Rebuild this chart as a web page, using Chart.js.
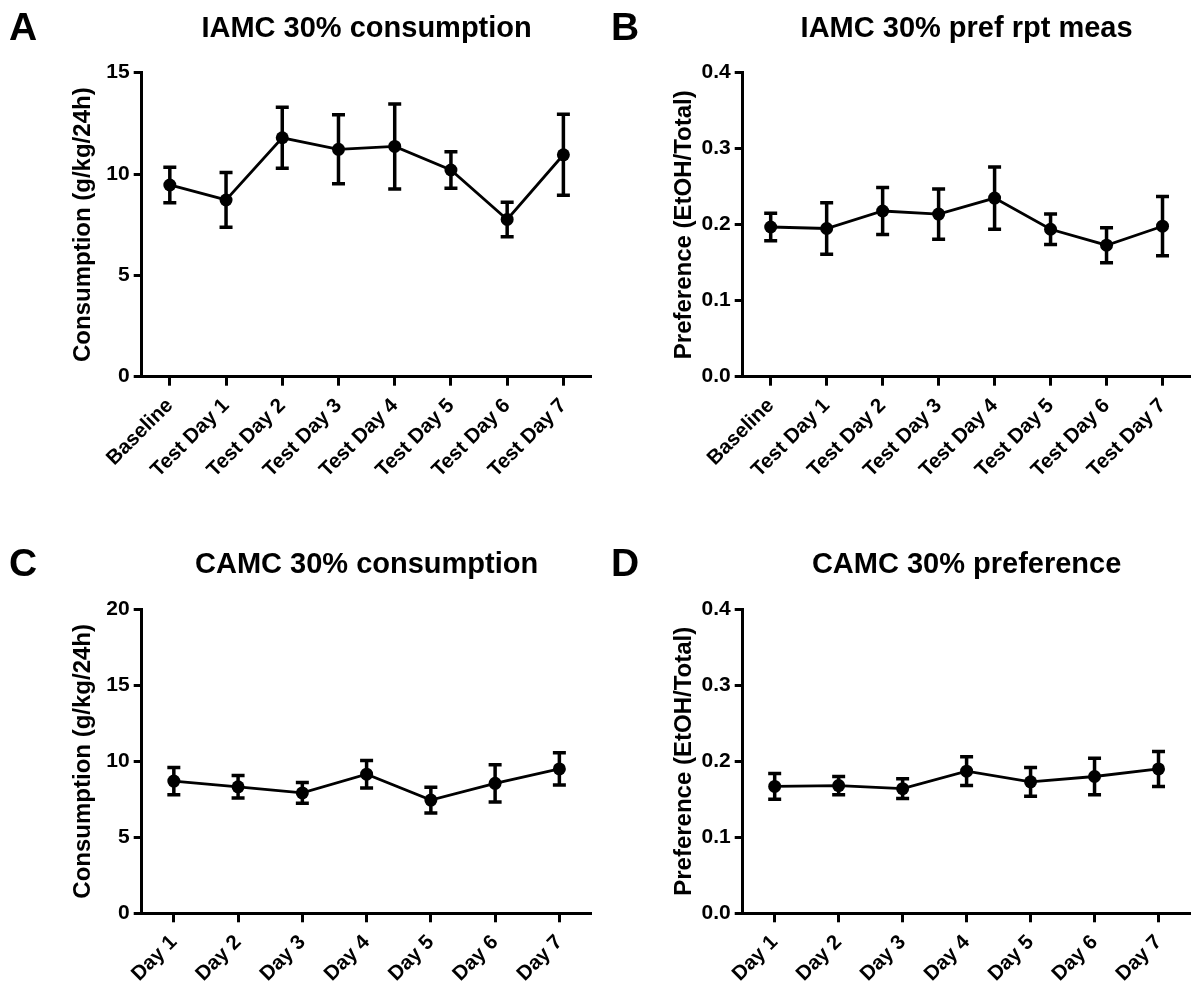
<!DOCTYPE html>
<html><head><meta charset="utf-8">
<script src="https://cdn.jsdelivr.net/npm/chart.js@4.4.1/dist/chart.umd.min.js"></script>
<style>
html,body{margin:0;padding:0;background:#fff;}
#wrap{position:relative;width:1197px;height:988px;overflow:hidden;background:#fff;}
canvas{position:absolute;}
</style></head><body>
<div id="wrap">
<canvas id="cA" width="598" height="536" style="left:0px;top:0px"></canvas>
<canvas id="cB" width="599" height="536" style="left:598px;top:0px"></canvas>
<canvas id="cC" width="598" height="452" style="left:0px;top:536px"></canvas>
<canvas id="cD" width="599" height="452" style="left:598px;top:536px"></canvas>
</div>
<script>
// ---- data ----
const iamcLabels = ['Baseline','Test Day 1','Test Day 2','Test Day 3','Test Day 4','Test Day 5','Test Day 6','Test Day 7'];
const camcLabels = ['Day 1','Day 2','Day 3','Day 4','Day 5','Day 6','Day 7'];

const iamcConsMean = [9.46, 8.72, 11.79, 11.22, 11.36, 10.2, 7.76, 10.95];
const iamcConsSem  = [0.88, 1.35, 1.5, 1.7, 2.1, 0.9, 0.85, 2.0];

const iamcPrefMean = [0.197, 0.195, 0.218, 0.214, 0.235, 0.194, 0.173, 0.198];
const iamcPrefSem  = [0.018, 0.034, 0.031, 0.033, 0.041, 0.020, 0.023, 0.039];

const camcConsMean = [8.7, 8.32, 7.92, 9.15, 7.45, 8.55, 9.5];
const camcConsSem  = [0.9, 0.74, 0.68, 0.9, 0.85, 1.22, 1.06];

const camcPrefMean = [0.167, 0.168, 0.164, 0.187, 0.173, 0.180, 0.190];
const camcPrefSem  = [0.017, 0.012, 0.013, 0.019, 0.019, 0.024, 0.023];

const consTicksA = [0, 5, 10, 15];
const consTicksC = [0, 5, 10, 15, 20];
const prefTicks  = [0, 0.1, 0.2, 0.3, 0.4];

// ---- rendering ----
const FONT = "'Liberation Sans', Arial, Helvetica, sans-serif";
Chart.defaults.font.family = FONT;
Chart.defaults.color = '#000';

const errorBars = {
  id: 'errorBars',
  afterDatasetsDraw(chart) {
    const ctx = chart.ctx, xs = chart.scales.x, ys = chart.scales.y;
    chart.data.datasets.forEach(ds => {
      if (!ds.errors) return;
      ctx.save();
      ctx.strokeStyle = '#000';
      ctx.lineWidth = 3.5;
      ds.data.forEach((v, i) => {
        const e = ds.errors[i];
        const px = xs.getPixelForValue(i);
        const t = ys.getPixelForValue(v + e);
        const b = ys.getPixelForValue(v - e);
        ctx.beginPath();
        ctx.moveTo(px, t); ctx.lineTo(px, b);
        ctx.moveTo(px - 6.5, t); ctx.lineTo(px + 6.5, t);
        ctx.moveTo(px - 6.5, b); ctx.lineTo(px + 6.5, b);
        ctx.stroke();
      });
      ctx.restore();
    });
  }
};

const header = {
  id: 'header',
  afterDraw(chart, args, o) {
    const ctx = chart.ctx, ca = chart.chartArea;
    ctx.save();
    ctx.fillStyle = '#000';
    ctx.textBaseline = 'alphabetic';
    ctx.font = 'bold 39px ' + FONT;
    ctx.textAlign = 'left';
    ctx.fillText(o.letter, o.letterX, 40);
    ctx.font = 'bold 29px ' + FONT;
    ctx.textAlign = 'center';
    ctx.fillText(o.title, (ca.left + ca.right) / 2, 37);
    ctx.restore();
  }
};

function makeChart(id, letter, letterX, title, labels, mean, sem, ticks, yTitle, geo, dec) {
  const yMax = ticks[ticks.length - 1];
  const step = ticks[1] - ticks[0];
  new Chart(document.getElementById(id), {
    type: 'line',
    data: {
      labels: labels,
      datasets: [{
        data: mean,
        errors: sem,
        borderColor: '#000',
        backgroundColor: '#000',
        borderWidth: 2.8,
        pointRadius: 6.5,
        pointBackgroundColor: '#000',
        pointBorderColor: '#000',
        pointBorderWidth: 0,
        tension: 0,
        clip: false
      }]
    },
    options: {
      responsive: false,
      animation: false,
      events: [],
      layout: { padding: { left: 0, right: geo.right, top: geo.top, bottom: 0 } },
      plugins: {
        legend: { display: false },
        tooltip: { enabled: false },
        header: { letter: letter, letterX: letterX, title: title }
      },
      scales: {
        x: {
          type: 'category',
          offset: true,
          grid: { display: true, drawOnChartArea: false, drawTicks: true, tickLength: 9, tickWidth: 3, tickColor: '#000', offset: false },
          border: { display: true, color: '#000', width: 3 },
          ticks: { color: '#000', font: { size: 20.5, weight: 'bold' }, minRotation: 45, maxRotation: 45, padding: 8, autoSkip: false },
          afterFit(s) { s.height = geo.xh; }
        },
        y: {
          min: 0, max: yMax,
          grid: { display: true, drawOnChartArea: false, drawTicks: true, tickLength: 8, tickWidth: 3, tickColor: '#000' },
          border: { display: true, color: '#000', width: 3 },
          ticks: {
            color: '#000', font: { size: 21, weight: 'bold' }, stepSize: step, padding: 4,
            callback: v => dec ? Number(v).toFixed(1) : String(v)
          },
          title: { display: true, text: yTitle, color: '#000', font: { size: 24, weight: 'bold' }, padding: { top: geo.tpad, bottom: 0 } },
          afterFit(s) { s.width = geo.yw; }
        }
      }
    },
    plugins: [errorBars, header]
  });
}

makeChart('cA', 'A', 9, 'IAMC 30% consumption', iamcLabels, iamcConsMean, iamcConsSem, consTicksA,
  'Consumption (g/kg/24h)', { right: 2, top: 72.7, xh: 536 - 376.7, yw: 141.7, tpad: 69 }, false);
makeChart('cB', 'B', 13, 'IAMC 30% pref rpt meas', iamcLabels, iamcPrefMean, iamcPrefSem, prefTicks,
  'Preference (EtOH/Total)', { right: 1, top: 72.7, xh: 536 - 376.7, yw: 144.7, tpad: 72 }, true);
makeChart('cC', 'C', 9, 'CAMC 30% consumption', camcLabels, camcConsMean, camcConsSem, consTicksC,
  'Consumption (g/kg/24h)', { right: 1, top: 73.3, xh: 452 - 377.3, yw: 141.7, tpad: 69 }, false);
makeChart('cD', 'D', 13, 'CAMC 30% preference', camcLabels, camcPrefMean, camcPrefSem, prefTicks,
  'Preference (EtOH/Total)', { right: 3, top: 73.3, xh: 452 - 377.3, yw: 144.7, tpad: 72 }, true);
</script>
</body></html>
